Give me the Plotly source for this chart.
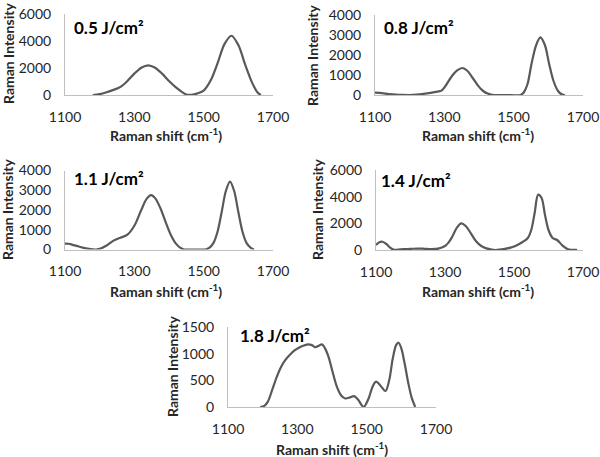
import plotly.graph_objects as go

W, H = 600, 457

# ---------------- data ----------------
labels = ["0.5 J/cm²", "0.8 J/cm²", "1.1 J/cm²", "1.4 J/cm²", "1.8 J/cm²"]

x_05 = [1180, 1200, 1220, 1240, 1260, 1280, 1300, 1320, 1340, 1360, 1380, 1400, 1420, 1440, 1452,
        1465, 1480, 1500, 1520, 1540, 1560, 1580, 1600, 1620, 1640, 1655, 1665]
y_05 = [0, 60, 200, 380, 600, 1040, 1580, 2020, 2200, 2020, 1580, 1040, 560, 180, 20,
        20, 100, 330, 1070, 2350, 3770, 4390, 3700, 2230, 900, 200, 0]

x_08 = [1100, 1120, 1140, 1160, 1180, 1200, 1220, 1240, 1260, 1280, 1292, 1307, 1322, 1337, 1352,
        1367, 1382, 1397, 1412, 1427, 1442, 1480, 1520, 1530, 1540, 1552, 1565, 1577, 1590, 1602,
        1615, 1628, 1640, 1648]
y_08 = [120, 90, 50, 20, 5, 0, 20, 60, 110, 170, 220, 550, 950, 1230, 1350,
        1200, 850, 470, 200, 60, 0, 0, 0, 150, 550, 1600, 2500, 2880, 2500, 1580,
        700, 200, 20, 0]

x_11 = [1100, 1110, 1120, 1140, 1160, 1180, 1190, 1200, 1220, 1240, 1260, 1280, 1300, 1320, 1335,
        1348, 1360, 1375, 1390, 1405, 1420, 1435, 1445, 1480, 1505, 1516, 1528, 1540, 1552, 1564,
        1576, 1588, 1600, 1612, 1624, 1636, 1645]
y_11 = [300, 290, 250, 150, 60, 10, 0, 30, 200, 450, 600, 750, 1200, 2000, 2550,
        2750, 2600, 2100, 1400, 750, 300, 60, 0, 0, 0, 80, 320, 900, 1900, 2960,
        3440, 2960, 1900, 900, 320, 80, 0]

x_14 = [1100, 1110, 1118, 1130, 1140, 1150, 1160, 1180, 1200, 1220, 1240, 1260, 1280, 1300, 1310,
        1320, 1335, 1347, 1360, 1375, 1390, 1405, 1420, 1435, 1446, 1470, 1490, 1510, 1525, 1540,
        1550, 1560, 1570, 1580, 1590, 1600, 1612, 1625, 1640, 1655, 1665, 1683]
y_14 = [380, 580, 620, 450, 200, 40, 20, 60, 80, 110, 90, 60, 100, 300, 550,
        950, 1700, 2000, 1800, 1250, 650, 300, 120, 30, 0, 60, 180, 380, 600, 900,
        1500, 2800, 4150, 3900, 2600, 1500, 900, 750, 350, 80, 20, 20]

x_18 = [1193, 1205, 1215, 1228, 1241, 1253, 1265, 1280, 1294, 1310, 1331, 1342, 1352, 1362, 1371,
        1380, 1390, 1400, 1414, 1426, 1438, 1452, 1464, 1475, 1491, 1505, 1517, 1527, 1540, 1554,
        1565, 1575, 1585, 1592, 1600, 1610, 1620, 1630, 1640]
y_18 = [0, 20, 100, 330, 570, 750, 880, 990, 1070, 1130, 1175, 1160, 1120, 1150, 1175,
        1100, 940, 700, 380, 220, 160, 180, 205, 140, 0, 150, 380, 475, 400, 300,
        500, 900, 1160, 1205, 1100, 800, 450, 170, 0]

x_ticks = [1100, 1300, 1500, 1700]
y_ticks_05 = [0, 2000, 4000, 6000]
y_ticks_08 = [0, 1000, 2000, 3000, 4000]
y_ticks_11 = [0, 1000, 2000, 3000, 4000]
y_ticks_14 = [0, 2000, 4000, 6000]
y_ticks_18 = [0, 500, 1000, 1500]

xs = [x_05, x_08, x_11, x_14, x_18]
ys = [y_05, y_08, y_11, y_14, y_18]
yticks = [y_ticks_05, y_ticks_08, y_ticks_11, y_ticks_14, y_ticks_18]

# ---------------- layout (pixel boxes: left, right, top, bottom) ----------------
boxes = [(65, 273, 14, 95), (375, 583, 15, 95), (65, 273, 170.5, 249.5),
         (376, 583, 170, 250), (228, 436, 327, 407)]
ytitle_pos = [(8, 54), (313, 55), (8, 210), (318, 210), (172, 367)]
xtitle_pos = [(166, 134), (478, 134), (166, 290), (478, 290), (332, 448)]
label_pos = [(72, 27), (382, 27), (72, 178), (379, 180), (238, 335)]

def px(x):
    return x / W

def py(y):
    return 1 - y / H

fig = go.Figure()
FONT = "Lato, 'Open Sans', sans-serif"
LINE = "#595959"
AX = "#bfbfbf"

annotations = []
for i in range(5):
    l, r, t, b = boxes[i]
    xa = "x" if i == 0 else f"x{i+1}"
    ya = "y" if i == 0 else f"y{i+1}"
    fig.add_trace(go.Scatter(x=xs[i], y=ys[i], mode="lines", xaxis=xa, yaxis=ya,
                             line=dict(color=LINE, width=2.2, shape="spline", smoothing=0.9),
                             showlegend=False, hoverinfo="skip"))
    xk = "xaxis" if i == 0 else f"xaxis{i+1}"
    yk = "yaxis" if i == 0 else f"yaxis{i+1}"
    fig.layout[xk] = dict(domain=[px(l), px(r)], range=[1100, 1700], tickvals=x_ticks,
                          ticktext=[str(v) for v in x_ticks], showgrid=False, zeroline=False,
                          showline=True, linecolor=AX, linewidth=1, ticks="",
                          ticklabelstandoff=9, anchor=ya, automargin=False,
                          tickfont=dict(family=FONT, size=14, color="#262626"))
    fig.layout[yk] = dict(domain=[py(b), py(t)], range=[0, max(yticks[i])], tickvals=yticks[i],
                          ticktext=[str(v) for v in yticks[i]], showgrid=False, zeroline=False,
                          showline=True, linecolor=AX, linewidth=1, ticks="",
                          ticklabelstandoff=10, anchor=xa, automargin=False,
                          tickfont=dict(family=FONT, size=14, color="#262626"))
    tx, ty = ytitle_pos[i]
    annotations.append(dict(x=px(tx), y=py(ty), xref="paper", yref="paper", text="<b>Raman Intensity</b>",
                            textangle=-90, showarrow=False, xanchor="center", yanchor="middle",
                            font=dict(family=FONT, size=14, color="#262626")))
    tx, ty = xtitle_pos[i]
    annotations.append(dict(x=px(tx), y=py(ty), xref="paper", yref="paper",
                            text="<b>Raman shift (cm<sup>-1</sup>)</b>",
                            showarrow=False, xanchor="center", yanchor="middle",
                            font=dict(family=FONT, size=14, color="#262626")))
    tx, ty = label_pos[i]
    annotations.append(dict(x=px(tx), y=py(ty), xref="paper", yref="paper", text=f"<b>{labels[i]}</b>",
                            showarrow=False, xanchor="left", yanchor="middle",
                            font=dict(family=FONT, size=17, color="#000000")))

fig.update_layout(width=W, height=H, margin=dict(l=0, r=0, t=0, b=0, autoexpand=False),
                  paper_bgcolor="white", plot_bgcolor="white",
                  annotations=annotations, showlegend=False)

fig.write_html("out.html", config={"displayModeBar": False, "staticPlot": True},
               post_script="document.body.style.margin='0';document.body.style.overflow='hidden';")
